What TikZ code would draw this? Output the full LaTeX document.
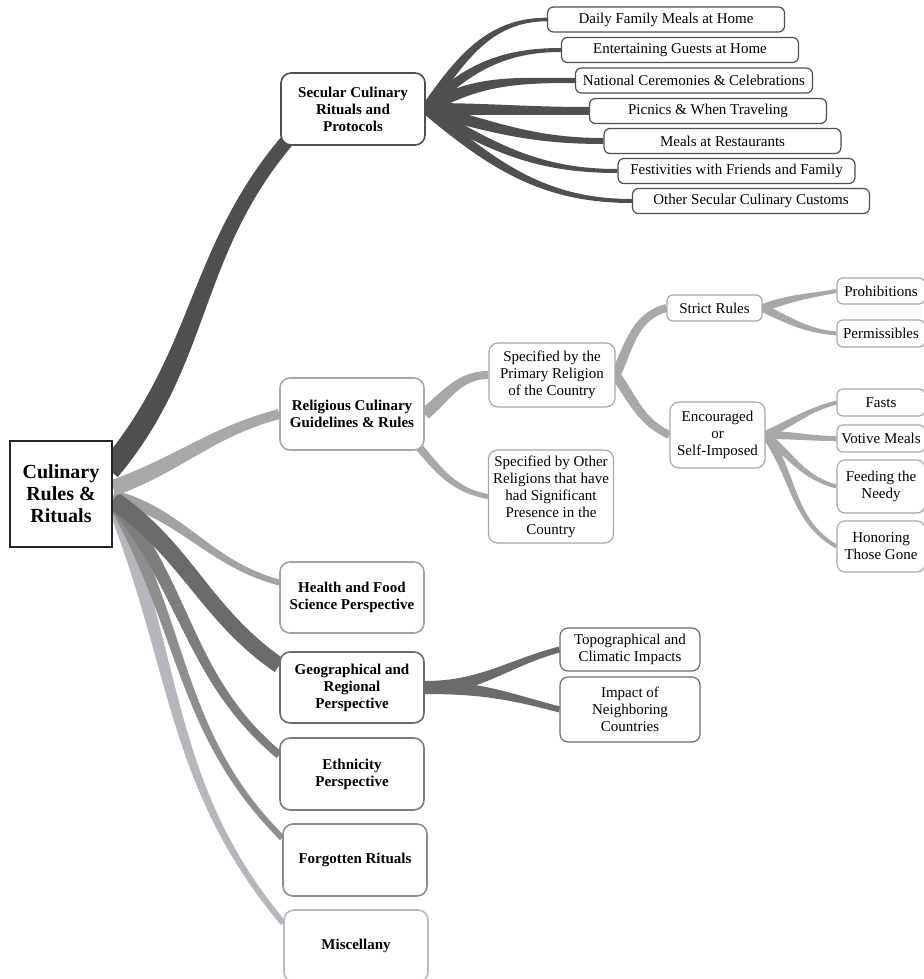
\documentclass[tikz,border=0pt]{standalone}
\usepackage{fontspec}
\setmainfont{Liberation Serif}
\usetikzlibrary{calc,positioning}
\pgfdeclarelayer{ribbons}
\pgfsetlayers{ribbons,main}
\definecolor{secgray}{HTML}{4F4F4F}
\definecolor{relgray}{HTML}{A8A8A8}
\definecolor{heagray}{HTML}{A2A2A2}
\definecolor{geogray}{HTML}{6B6B6B}
\definecolor{ethgray}{HTML}{7D7D7D}
\definecolor{forgray}{HTML}{8E8E8E}
\definecolor{misgray}{HTML}{B5B7BD}
\tikzstyle{rootbox} = [draw=black!85, line width=2.5pt, fill=white,
    minimum width=102pt, minimum height=106pt, align=center,
    font=\bfseries\fontsize{20}{22}\selectfont]
\tikzstyle{topic} = [fill=white, line width=1.6pt, rounded corners=10pt,
    minimum width=144pt, minimum height=72pt, inner sep=2pt, align=center,
    font=\bfseries\fontsize{15}{17}\selectfont]
\tikzstyle{item} = [fill=white, line width=1.2pt, rounded corners=6pt,
    inner sep=2pt, align=center, font=\fontsize{15}{17}\selectfont]
% tapered branch: colour, from, to, out, in, start half width, end half width
\newcommand{\ribbon}[7]{%
  \path #2 coordinate (ribA) #3 coordinate (ribB);
  \fill[#1] ($(ribA)+({#4+90}:#6)$) to[out=#4,in=#5] ($(ribB)+({#5-90}:#7)$)
    -- ($(ribB)+({#5+90}:#7)$) to[out=#5,in=#4] ($(ribA)+({#4-90}:#6)$) -- cycle;}

\begin{document}
\begin{tikzpicture}[x=1pt, y=1pt]
    \useasboundingbox (0,0) rectangle (923,-979);

    % We start by placing the boxes
    \node [rootbox] (root) at (61,-494) {Culinary\\Rules \&\\Rituals};

    \node [topic, draw=secgray] (sec) at (353,-109) {Secular Culinary\\Rituals and\\Protocols};
    \node [topic, draw=relgray] (rel) at (352,-414) {Religious Culinary\\Guidelines \& Rules};
    \node [topic, draw=heagray, minimum height=71pt] (hea) at (352,-597.5) {Health and Food\\Science Perspective};
    \node [topic, draw=geogray, minimum height=71pt] (geo) at (352,-687.5) {Geographical and\\Regional\\Perspective};
    \node [topic, draw=ethgray] (eth) at (352,-774) {Ethnicity\\Perspective};
    \node [topic, draw=forgray] (for) at (355,-860) {Forgotten Rituals};
    \node [topic, draw=misgray] (mis) at (356,-946) {Miscellany};

    % secular customs
    \node [item, draw=secgray, minimum width=237pt, minimum height=25pt] (s1) at (666,-19.5) {Daily Family Meals at Home};
    \node [item, draw=secgray, minimum width=237pt, minimum height=25pt] (s2) at (680,-50) {Entertaining Guests at Home};
    \node [item, draw=secgray, minimum width=237pt, minimum height=25pt] (s3) at (694,-80.5) {National Ceremonies \& Celebrations};
    \node [item, draw=secgray, minimum width=237pt, minimum height=25pt] (s4) at (708,-111) {Picnics \& When Traveling};
    \node [item, draw=secgray, minimum width=237pt, minimum height=25pt] (s5) at (722.5,-141) {Meals at Restaurants};
    \node [item, draw=secgray, minimum width=237pt, minimum height=25pt] (s6) at (736.5,-171) {Festivities with Friends and Family};
    \node [item, draw=secgray, minimum width=237pt, minimum height=25pt] (s7) at (751,-201) {Other Secular Culinary Customs};

    % religious rules
    \node [item, draw=relgray, rounded corners=9pt, minimum width=126pt, minimum height=64pt] (pri) at (552,-375) {Specified by the\\Primary Religion\\of the Country};
    \node [item, draw=relgray, rounded corners=9pt, minimum width=125pt, minimum height=93pt] (oth) at (551,-496.5) {Specified by Other\\Religions that have\\had Significant\\Presence in the\\Country};
    \node [item, draw=relgray, minimum width=95pt, minimum height=26pt] (str) at (714.5,-308) {Strict Rules};
    \node [item, draw=relgray, rounded corners=9pt, minimum width=95pt, minimum height=66pt] (enc) at (717.5,-435) {Encouraged\\or\\Self-Imposed};
    \node [item, draw=relgray, minimum width=88pt, minimum height=26pt] (pro) at (881,-291) {Prohibitions};
    \node [item, draw=relgray, minimum width=88pt, minimum height=27pt] (per) at (881,-333.5) {Permissibles};
    \node [item, draw=relgray, minimum width=88pt, minimum height=27pt] (fas) at (881,-402.5) {Fasts};
    \node [item, draw=relgray, minimum width=88pt, minimum height=27pt] (vot) at (881,-438.5) {Votive Meals};
    \node [item, draw=relgray, rounded corners=8pt, minimum width=88pt, minimum height=53pt] (fee) at (881,-486.5) {Feeding the\\Needy};
    \node [item, draw=relgray, rounded corners=8pt, minimum width=88pt, minimum height=51pt] (hon) at (881,-546.5) {Honoring\\Those Gone};

    % geographical impacts
    \node [item, draw=geogray, rounded corners=8pt, minimum width=140pt, minimum height=43pt] (top) at (630,-649.5) {Topographical and\\Climatic Impacts};
    \node [item, draw=geogray, rounded corners=8pt, minimum width=140pt, minimum height=65pt] (imp) at (630,-709.5) {Impact of\\Neighboring\\Countries};

    % Once the boxes are placed, the branches go behind them
    \begin{pgfonlayer}{ribbons}
    \ribbon{misgray}{($(root.east)+(-2,-4)$)}{($(mis.west)+(0,23)$)}{-68}{130}{7}{3}
    \ribbon{forgray}{($(root.east)+(-2,-4)$)}{($(for.west)+(0,22)$)}{-60}{135}{6}{3}
    \ribbon{ethgray}{($(root.east)+(-2,-4)$)}{($(eth.west)+(0,19)$)}{-50}{140}{7}{4}
    \ribbon{heagray}{($(root.east)+(0,-2)$)}{($(hea.west)+(0,15)$)}{-15}{165}{6}{3}
    \ribbon{geogray}{($(root.east)+(0,-6)$)}{($(geo.west)+(0,22)$)}{-35}{145}{9}{8}
    \ribbon{relgray}{($(root.east)+(0,6)$)}{(rel.west)}{20}{195}{8}{5}
    \ribbon{secgray}{($(root.east)+(-4,24)$)}{($(sec.south west)+(6,4)$)}{50}{230}{11}{7}

    \ribbon{secgray}{(sec.east)}{(s1.west)}{55}{180}{5}{1.8}
    \ribbon{secgray}{(sec.east)}{(s2.west)}{45}{180}{5}{2}
    \ribbon{secgray}{(sec.east)}{(s3.west)}{30}{180}{6}{2.5}
    \ribbon{secgray}{(sec.east)}{(s4.west)}{0}{180}{6}{4}
    \ribbon{secgray}{(sec.east)}{(s5.west)}{-15}{180}{6}{3}
    \ribbon{secgray}{(sec.east)}{(s6.west)}{-30}{180}{5}{2}
    \ribbon{secgray}{(sec.east)}{(s7.west)}{-40}{180}{5}{2}

    \ribbon{relgray}{(rel.east)}{(pri.west)}{40}{180}{6}{4}
    \ribbon{relgray}{($(rel.south east)+(-6,4)$)}{(oth.west)}{-50}{170}{4}{2.5}
    \ribbon{relgray}{(pri.east)}{(str.west)}{65}{195}{5}{4}
    \ribbon{relgray}{(pri.east)}{(enc.west)}{-55}{155}{5}{4}
    \ribbon{relgray}{(str.east)}{(pro.west)}{20}{190}{4}{2}
    \ribbon{relgray}{(str.east)}{(per.west)}{-25}{175}{4}{2}
    \ribbon{relgray}{(enc.east)}{(fas.west)}{25}{195}{4}{2}
    \ribbon{relgray}{(enc.east)}{(vot.west)}{0}{180}{4}{2.5}
    \ribbon{relgray}{(enc.east)}{(fee.west)}{-40}{165}{4}{2}
    \ribbon{relgray}{(enc.east)}{(hon.west)}{-55}{150}{4}{2}

    \ribbon{geogray}{(geo.east)}{(top.west)}{0}{195}{6.5}{3}
    \ribbon{geogray}{(geo.east)}{(imp.west)}{0}{165}{6.5}{3}
    \end{pgfonlayer}
\end{tikzpicture}
\end{document}
